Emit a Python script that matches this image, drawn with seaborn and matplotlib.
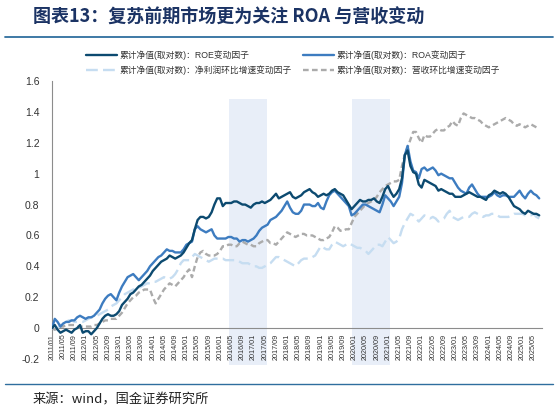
import numpy as np
import pandas as pd
import matplotlib
matplotlib.use("Agg")
import matplotlib.pyplot as plt
from matplotlib.lines import Line2D
import seaborn as sns

# ---------------- data (monthly, 2011/01 .. 2025/07) ----------------
roe = [0.00, 0.02, -0.01, -0.03, -0.02, -0.01, -0.02, -0.03, -0.01, 0.00,
       0.02, -0.03, -0.02, -0.02, -0.04, -0.02, 0.00, 0.03, 0.06, 0.08,
       0.09, 0.08, 0.08, 0.09, 0.11, 0.15, 0.17, 0.19, 0.22, 0.23,
       0.25, 0.27, 0.28, 0.30, 0.32, 0.34, 0.37, 0.39, 0.41, 0.43,
       0.44, 0.45, 0.47, 0.46, 0.45, 0.46, 0.47, 0.49, 0.52, 0.55,
       0.57, 0.64, 0.70, 0.72, 0.72, 0.71, 0.72, 0.75, 0.80, 0.84,
       0.84, 0.79, 0.81, 0.81, 0.81, 0.82, 0.82, 0.81, 0.80, 0.80,
       0.79, 0.78, 0.80, 0.81, 0.81, 0.82, 0.81, 0.82, 0.83, 0.85,
       0.87, 0.84, 0.85, 0.86, 0.87, 0.88, 0.85, 0.84, 0.85, 0.86,
       0.88, 0.89, 0.90, 0.88, 0.87, 0.85, 0.86, 0.87, 0.86, 0.87,
       0.89, 0.90, 0.88, 0.87, 0.86, 0.83, 0.80, 0.77, 0.79, 0.81,
       0.83, 0.82, 0.82, 0.83, 0.83, 0.84, 0.82, 0.81, 0.85, 0.90,
       0.92, 0.88, 0.85, 0.87, 0.90, 0.97, 1.12, 1.15, 1.05, 1.01,
       1.00, 0.93, 0.91, 0.96, 0.95, 0.94, 0.93, 0.92, 0.89, 0.90,
       0.89, 0.88, 0.87, 0.87, 0.85, 0.85, 0.85, 0.86, 0.87, 0.88,
       0.87, 0.86, 0.85, 0.85, 0.84, 0.83, 0.86, 0.87, 0.89, 0.88,
       0.87, 0.88, 0.87, 0.85, 0.82, 0.79, 0.78, 0.77, 0.75, 0.74,
       0.76, 0.75, 0.74, 0.74, 0.73]

roa = [0.00, 0.06, 0.04, 0.01, 0.03, 0.04, 0.04, 0.05, 0.05, 0.07,
       0.08, 0.07, 0.06, 0.07, 0.07, 0.08, 0.10, 0.12, 0.16, 0.19,
       0.21, 0.22, 0.20, 0.18, 0.23, 0.27, 0.30, 0.33, 0.34, 0.35,
       0.33, 0.31, 0.33, 0.35, 0.37, 0.40, 0.42, 0.44, 0.46, 0.47,
       0.49, 0.51, 0.50, 0.50, 0.49, 0.49, 0.49, 0.51, 0.54, 0.55,
       0.56, 0.64, 0.66, 0.64, 0.63, 0.62, 0.63, 0.64, 0.60, 0.58,
       0.58, 0.58, 0.58, 0.59, 0.59, 0.58, 0.58, 0.56, 0.57, 0.57,
       0.56, 0.57, 0.58, 0.60, 0.63, 0.65, 0.66, 0.67, 0.70, 0.71,
       0.72, 0.74, 0.76, 0.79, 0.82, 0.78, 0.75, 0.74, 0.74, 0.76,
       0.80, 0.80, 0.80, 0.79, 0.79, 0.81, 0.78, 0.77, 0.82, 0.86,
       0.88, 0.89, 0.87, 0.85, 0.83, 0.81, 0.79, 0.73, 0.74, 0.76,
       0.78, 0.80, 0.80, 0.79, 0.78, 0.77, 0.76, 0.75, 0.80, 0.86,
       0.84, 0.82, 0.79, 0.82, 0.85, 0.94, 1.12, 1.18, 1.08, 1.02,
       1.01, 0.97, 1.03, 1.04, 1.02, 1.03, 1.04, 1.02, 0.99, 1.00,
       0.99, 0.98, 0.97, 0.97, 0.94, 0.91, 0.89, 0.88, 0.87, 0.91,
       0.93, 0.90, 0.87, 0.85, 0.85, 0.85, 0.85, 0.86, 0.88, 0.86,
       0.85, 0.86, 0.86, 0.85, 0.85, 0.85, 0.87, 0.89, 0.86, 0.84,
       0.87, 0.89, 0.87, 0.86, 0.84]

net_profit = [0.00, -0.01, 0.00, 0.02, 0.03, 0.04, 0.05, 0.05, 0.04, 0.04,
              0.04, 0.04, 0.05, 0.06, 0.07, 0.07, 0.08, 0.09, 0.10, 0.11,
              0.12, 0.14, 0.15, 0.16, 0.18, 0.20, 0.22, 0.23, 0.24, 0.25,
              0.25, 0.26, 0.27, 0.28, 0.29, 0.29, 0.30, 0.30, 0.31, 0.32,
              0.33, 0.32, 0.32, 0.33, 0.35, 0.38, 0.42, 0.44, 0.44, 0.44,
              0.46, 0.48, 0.47, 0.46, 0.45, 0.44, 0.43, 0.44, 0.45, 0.45,
              0.45, 0.45, 0.44, 0.44, 0.44, 0.44, 0.44, 0.43, 0.42, 0.42,
              0.42, 0.41, 0.40, 0.40, 0.39, 0.39, 0.40, 0.41, 0.42, 0.44,
              0.46, 0.46, 0.45, 0.44, 0.43, 0.42, 0.41, 0.40, 0.42, 0.44,
              0.45, 0.45, 0.45, 0.46, 0.47, 0.50, 0.53, 0.52, 0.51, 0.51,
              0.54, 0.56, 0.55, 0.54, 0.53, 0.54, 0.55, 0.54, 0.53, 0.52,
              0.52, 0.51, 0.50, 0.48, 0.50, 0.52, 0.54, 0.54, 0.53, 0.56,
              0.59, 0.57, 0.55, 0.56, 0.58, 0.64, 0.68, 0.71, 0.74, 0.73,
              0.71, 0.69, 0.71, 0.73, 0.72, 0.71, 0.72, 0.71, 0.69, 0.70,
              0.71, 0.74, 0.76, 0.72, 0.71, 0.70, 0.71, 0.72, 0.72, 0.72,
              0.74, 0.75, 0.74, 0.73, 0.72, 0.73, 0.73, 0.74, 0.74, 0.73,
              0.72, 0.72, 0.72, 0.72, 0.73, 0.74, 0.74, 0.74, 0.74, 0.73,
              0.73, 0.73, 0.74, 0.72, 0.71]

revenue = [0.00, -0.01, 0.00, 0.01, 0.01, 0.02, 0.02, 0.02, 0.02, 0.01,
           0.01, 0.01, 0.01, 0.01, 0.01, 0.02, 0.02, 0.03, 0.04, 0.05,
           0.05, 0.06, 0.06, 0.06, 0.08, 0.10, 0.13, 0.16, 0.18, 0.20,
           0.21, 0.23, 0.24, 0.25, 0.25, 0.25, 0.20, 0.16, 0.19, 0.22,
           0.25, 0.27, 0.29, 0.28, 0.27, 0.29, 0.31, 0.33, 0.36, 0.38,
           0.33, 0.40, 0.46, 0.49, 0.50, 0.48, 0.47, 0.47, 0.47, 0.48,
           0.50, 0.53, 0.53, 0.54, 0.54, 0.53, 0.53, 0.55, 0.56, 0.55,
           0.54, 0.54, 0.53, 0.53, 0.55, 0.56, 0.57, 0.57, 0.55, 0.55,
           0.54, 0.56, 0.58, 0.60, 0.62, 0.61, 0.60, 0.59, 0.60, 0.61,
           0.61, 0.60, 0.60, 0.60, 0.59, 0.58, 0.57, 0.57, 0.58, 0.59,
           0.62, 0.66, 0.65, 0.63, 0.63, 0.64, 0.64, 0.68, 0.72, 0.74,
           0.76, 0.78, 0.80, 0.81, 0.82, 0.83, 0.85, 0.88, 0.90, 0.92,
           0.93, 0.94, 0.95, 0.95, 0.96, 1.05, 1.12, 1.17, 1.22, 1.27,
           1.27, 1.23, 1.20, 1.25, 1.24, 1.24, 1.26, 1.28, 1.29, 1.28,
           1.28, 1.30, 1.31, 1.34, 1.32, 1.31, 1.36, 1.39, 1.38, 1.37,
           1.36, 1.36, 1.35, 1.34, 1.32, 1.31, 1.30, 1.31, 1.32, 1.33,
           1.34, 1.35, 1.36, 1.35, 1.34, 1.32, 1.31, 1.32, 1.31, 1.30,
           1.31, 1.32, 1.31, 1.30, 1.30]

series_names = ["累计净值(取对数)：ROE变动因子",
                "累计净值(取对数)：ROA变动因子",
                "累计净值(取对数)：净利润环比增速变动因子",
                "累计净值(取对数)：营收环比增速变动因子"]

tick_labels = [f"{y}/{mo:02d}" for y in range(2011, 2026) for mo in (1, 5, 9)][:44]
shade_periods = [(63.3, 76.8), (107.1, 120.7)]

# ---------------- build frame ----------------
months = np.arange(len(roe))
frames = []
for name, vals in zip(series_names, [roe, roa, net_profit, revenue]):
    frames.append(pd.DataFrame({"m": months, "v": vals, "s": name}))
df = pd.concat(frames, ignore_index=True)

sns.set_theme(style="white")
plt.rcParams['font.family'] = ['Liberation Sans', 'Noto Sans CJK SC', 'DejaVu Sans']

fig = plt.figure(figsize=(5.59, 4.16), dpi=100)
ax = fig.add_axes([52 / 559, 57 / 416, 490 / 559, 278 / 416])

shade_c = "#E8EEF8"
for a, b in shade_periods:
    ax.axvspan(a, b, ymin=-0.022, ymax=0.935, color=shade_c, lw=0, zorder=0, clip_on=False)

palette = {series_names[0]: "#0C4A70", series_names[1]: "#3D7CC0",
           series_names[2]: "#C6DDF1", series_names[3]: "#ABABAB"}
dashes = {series_names[0]: "", series_names[1]: "",
          series_names[2]: (5, 2.2), series_names[3]: (2.4, 1.4)}
hue_order = [series_names[2], series_names[3], series_names[1], series_names[0]]

sns.lineplot(data=df, x="m", y="v", hue="s", style="s", hue_order=hue_order,
             style_order=hue_order, palette=palette, dashes=dashes,
             linewidth=1.7, ax=ax, legend=True, zorder=3)

handles, labels = ax.get_legend_handles_labels()
hmap = dict(zip(labels, handles))
ax.get_legend().remove()
order = [series_names[0], series_names[2], series_names[1], series_names[3]]
leg = fig.legend([hmap[n] for n in order], order, ncol=2, loc="upper left",
                 bbox_to_anchor=(78 / 559, 1 - 42 / 416), frameon=False,
                 fontsize=6.3, handlelength=3.6, columnspacing=1.2,
                 labelspacing=0.6, handletextpad=0.3)
for t in leg.get_texts():
    t.set_color("#333333")

ax.set_xlim(0, 175)
ax.set_ylim(-0.2, 1.6)
ax.set_yticks(np.arange(-0.2, 1.61, 0.2))
ax.set_yticklabels(["-0.2", "0", "0.2", "0.4", "0.6", "0.8", "1", "1.2", "1.4", "1.6"])
ax.set_xticks(np.arange(0, 4 * len(tick_labels), 4))
ax.set_xticklabels(tick_labels)
ax.set_xlabel("")
ax.set_ylabel("")

for sp in ["top", "right"]:
    ax.spines[sp].set_visible(False)
ax.spines["bottom"].set_position(("data", 0))
ax.spines["bottom"].set_color("#8C8C8C")
ax.spines["left"].set_color("#8C8C8C")
ax.spines["bottom"].set_linewidth(0.8)
ax.spines["left"].set_linewidth(0.8)
ax.tick_params(axis="x", direction="out", length=3, width=0.6, color="#8C8C8C",
               labelsize=5.2, labelcolor="#333333", pad=1, labelrotation=90)
ax.tick_params(axis="y", direction="out", length=3, width=0.6, color="#8C8C8C",
               labelsize=7.5, labelcolor="#333333", pad=6)
ax.grid(False)

# title, rules, source
fig.text(33 / 559, 1 - 17 / 416, "图表13：复苏前期市场更为关注 ROA 与营收变动",
         fontsize=13, fontweight="bold", color="#1B3364", va="center",
         family=["Noto Sans CJK SC", "DejaVu Sans"])
fig.add_artist(Line2D([5 / 559, 553 / 559], [1 - 37 / 416] * 2, color="#2F6E9E", lw=1.3))
fig.add_artist(Line2D([5 / 559, 553 / 559], [1 - 384 / 416] * 2, color="#2F6E9E", lw=1.0))
fig.text(33 / 559, 1 - 400 / 416, "来源：wind，国金证券研究所", fontsize=9.5,
         color="#222222", va="center", family=["Noto Sans CJK SC", "DejaVu Sans"])

fig.savefig("out.png", dpi=100)
